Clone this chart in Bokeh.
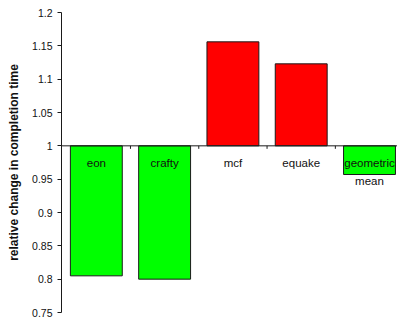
from bokeh.plotting import figure
from bokeh.models import Range1d, FixedTicker, CustomJSTickFormatter, ColumnDataSource
from bokeh.core.properties import value
from bokeh.embed import file_html
from bokeh.resources import INLINE

categories = ["eon", "crafty", "mcf", "equake", "geometric\nmean"]
values = [0.805, 0.800, 1.156, 1.123, 0.957]
colors = ["#00FF00", "#00FF00", "#FF0000", "#FF0000", "#00FF00"]
y_ticks = [0.75, 0.8, 0.85, 0.9, 0.95, 1.0, 1.05, 1.1, 1.15, 1.2]
baseline = 1.0

FONT = "Liberation Sans"

p = figure(width=397, height=323, output_backend="svg", toolbar_location=None,
           x_range=Range1d(-0.51, 4.41), y_range=Range1d(0.75, 1.2),
           min_border_left=61, min_border_right=0, min_border_top=12, min_border_bottom=11)
p.outline_line_color = None
p.grid.visible = False
p.xaxis.visible = False
p.background_fill_color = "white"
p.border_fill_color = "white"

idx = list(range(len(categories)))
src = ColumnDataSource(dict(x=idx, top=values, bottom=[baseline] * len(values), color=colors))
p.vbar(x="x", top="top", bottom="bottom", width=0.76, fill_color="color",
       line_color="#1a1a1a", line_width=1, source=src)

# category axis line at y = 1 with boundary ticks
p.segment(x0=[-0.51], y0=[baseline], x1=[4.41], y1=[baseline], line_color="#1a1a1a", line_width=1)
bx = [i + 0.5 for i in idx[:-1]]
p.segment(x0=bx, y0=[baseline] * len(bx), x1=bx, y1=[baseline - 0.0045] * len(bx),
          line_color="#1a1a1a", line_width=1)

# category labels
line1 = [c.split("\n")[0] for c in categories]
line2 = [c.split("\n")[1] if "\n" in c else "" for c in categories]
p.text(x=idx, y=[baseline] * len(idx), text=line1, y_offset=17,
       text_align="center", text_baseline="middle",
       text_font=value(FONT), text_font_size="11.5px", text_color="#111111")
p.text(x=idx, y=[baseline] * len(idx), text=line2, y_offset=35,
       text_align="center", text_baseline="middle",
       text_font=value(FONT), text_font_size="11.5px", text_color="#111111")

ax = p.yaxis[0]
ax.ticker = FixedTicker(ticks=y_ticks)
ax.formatter = CustomJSTickFormatter(code="return Number(tick.toFixed(2)).toString();")
ax.major_tick_out = 4
ax.major_tick_in = 0
ax.minor_tick_line_color = None
ax.axis_line_color = "#1a1a1a"
ax.major_tick_line_color = "#1a1a1a"
ax.major_label_text_font = FONT
ax.major_label_text_font_size = "10.5px"
ax.major_label_text_color = "#111111"
ax.major_label_standoff = 5
ax.axis_label = "relative change in completion time"
ax.axis_label_text_font = FONT
ax.axis_label_text_font_size = "12px"
ax.axis_label_text_font_style = "bold"
ax.axis_label_text_color = "#111111"
ax.axis_label_standoff = 8

open("out.html", "w").write(file_html(p, INLINE))
